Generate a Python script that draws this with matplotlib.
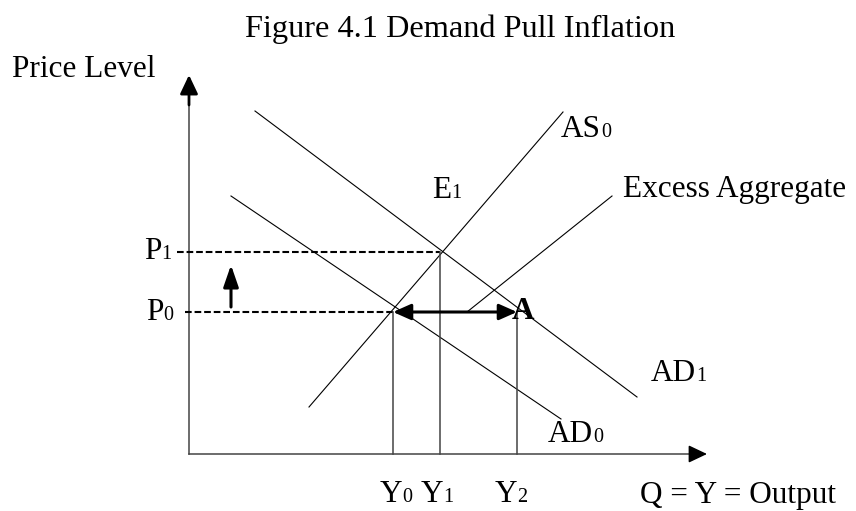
import matplotlib
matplotlib.use("Agg")
import matplotlib.pyplot as plt

plt.rcParams['font.family'] = ['Liberation Serif', 'DejaVu Serif']

# diagram coordinates: origin where the axes cross, 1 unit = 10 px
x_axis_end = 51.8
y_axis_end = 37.9

AD0_x = [4.2, 37.2]
AD0_y = [25.8, 3.5]
AD1_x = [6.6, 44.8]
AD1_y = [34.3, 5.7]
AS0_x = [12.0, 37.4]
AS0_y = [4.7, 34.2]
excess_x = [27.8, 42.3]
excess_y = [14.2, 25.8]

P0 = 14.2
P1 = 20.2
Y0 = 20.4
Y1 = 25.1
Y2 = 32.8
P0_dash_start = -0.4
P1_dash_start = -1.2
up_arrow_x = 4.2
up_arrow_y = [14.7, 18.9]

BIG = 22.5
SMALL = 14.5

fig = plt.figure(figsize=(8.56, 5.11), dpi=100)
ax = fig.add_axes([0, 0, 1, 1])
ax.set_xlim(-18.9, 66.7)
ax.set_ylim(-5.7, 45.4)
ax.axis('off')

axis_col = '#444444'
head = '-|>,head_length=0.95,head_width=0.45'

# axes with arrow heads
ax.plot([0, 0], [0, y_axis_end - 1.2], color=axis_col, lw=1.1)
ax.annotate('', xy=(0, y_axis_end), xytext=(0, y_axis_end - 3.0),
            arrowprops=dict(arrowstyle=head, color='black', lw=2.0,
                            mutation_scale=12, shrinkA=0, shrinkB=0))
ax.plot([0, x_axis_end - 1.2], [0, 0], color=axis_col, lw=1.1)
ax.annotate('', xy=(x_axis_end, 0), xytext=(x_axis_end - 1.5, 0),
            arrowprops=dict(arrowstyle=head, color='black', lw=1.1,
                            mutation_scale=12, shrinkA=0, shrinkB=0))

# curves
ax.plot(AD0_x, AD0_y, color='black', lw=0.8)
ax.plot(AD1_x, AD1_y, color='black', lw=0.8)
ax.plot(AS0_x, AS0_y, color='black', lw=0.8)
ax.plot(excess_x, excess_y, color='black', lw=0.8)

# price level guides
ax.plot([P0_dash_start, Y0], [P0, P0], color='black', lw=1.5, dashes=(3.2, 1.4))
ax.plot([P1_dash_start, Y1], [P1, P1], color='black', lw=1.5, dashes=(3.2, 1.4))
ax.plot([Y0, Y0], [0, P0], color=axis_col, lw=1.1)
ax.plot([Y1, Y1], [0, P1], color=axis_col, lw=1.1)
ax.plot([Y2, Y2], [0, P0], color=axis_col, lw=1.1)

# excess demand double arrow and price rise arrow
ax.annotate('', xy=(Y0, P0), xytext=(Y2, P0),
            arrowprops=dict(arrowstyle='<|-|>,head_length=0.9,head_width=0.4',
                            color='black', lw=2.2, mutation_scale=12,
                            shrinkA=0, shrinkB=0))
ax.annotate('', xy=(up_arrow_x, up_arrow_y[1]), xytext=(up_arrow_x, up_arrow_y[0]),
            arrowprops=dict(arrowstyle='-|>,head_length=1.1,head_width=0.38',
                            color='black', lw=2.2, mutation_scale=12,
                            shrinkA=0, shrinkB=0))


def sublabel(x, y, main, sub):
    ax.text(x, y, main, fontsize=BIG, ha='right', va='baseline')
    ax.text(x, y, sub, fontsize=SMALL, ha='left', va='baseline')


ax.text(5.6, 41.7, 'Figure 4.1 Demand Pull Inflation', fontsize=23.3,
        ha='left', va='baseline')
ax.text(-17.7, 37.7, 'Price Level', fontsize=BIG, ha='left', va='baseline')
sublabel(41.2, 31.7, 'AS', '0')
sublabel(26.2, 25.6, 'E', '1')
ax.text(43.4, 25.7, 'Excess Aggregate', fontsize=BIG, ha='left', va='baseline')
sublabel(-2.8, 19.5, 'P', '1')
sublabel(-2.6, 13.4, 'P', '0')
ax.text(32.3, 13.5, 'A', fontsize=BIG, fontweight='bold', ha='left', va='baseline')
sublabel(50.7, 7.3, 'AD', '1')
sublabel(40.4, 1.2, 'AD', '0')
sublabel(21.3, -4.8, 'Y', '0')
sublabel(25.4, -4.8, 'Y', '1')
sublabel(32.8, -4.8, 'Y', '2')
ax.text(45.1, -4.9, 'Q = Y = Output', fontsize=BIG, ha='left', va='baseline')

fig.savefig('out.png', dpi=100)
